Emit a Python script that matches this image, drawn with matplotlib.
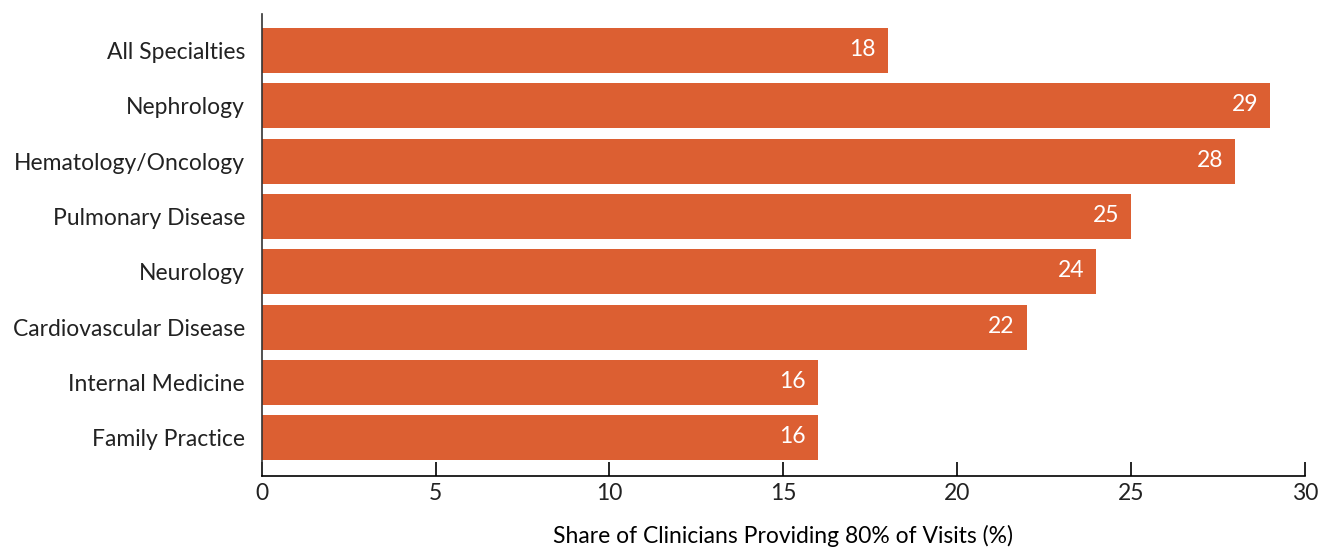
import matplotlib.pyplot as plt

plt.rcParams['font.family'] = ['Lato', 'DejaVu Sans']
plt.rcParams['text.color'] = '#222222'

specialties = ['All Specialties', 'Nephrology', 'Hematology/Oncology',
               'Pulmonary Disease', 'Neurology', 'Cardiovascular Disease',
               'Internal Medicine', 'Family Practice']
share = [18, 29, 28, 25, 24, 22, 16, 16]
xticks = [0, 5, 10, 15, 20, 25, 30]

bar_color = '#DC5F32'
fs = 16.5

fig = plt.figure(figsize=(13.28, 5.5), dpi=100)
ax = fig.add_axes([0.197, 0.1345, 0.7857, 0.84])

pos = list(range(len(specialties)))
ax.barh(pos, share, height=0.81, color=bar_color)

for p, v in zip(pos, share):
    ax.text(v - 0.35, p - 0.02, str(v), ha='right', va='center',
            color='white', fontsize=fs)

ax.set_ylim(7.69, -0.66)
ax.set_xlim(0, 30)
ax.set_yticks(pos)
ax.set_yticklabels(specialties, fontsize=fs, color='#222222')
ax.set_xticks(xticks)
ax.set_xticklabels([str(t) for t in xticks], fontsize=fs, color='#222222')
ax.tick_params(axis='y', length=0, pad=12)
ax.tick_params(axis='x', direction='in', length=10, width=1.2, pad=5)

for s in ['top', 'right']:
    ax.spines[s].set_visible(False)
ax.spines['left'].set_color('#333333')
ax.spines['left'].set_linewidth(1.2)
ax.spines['bottom'].set_linewidth(1.2)

ax.set_xlabel('Share of Clinicians Providing 80% of Visits (%)',
              fontsize=fs, labelpad=15)

fig.savefig('out.png', dpi=100)
